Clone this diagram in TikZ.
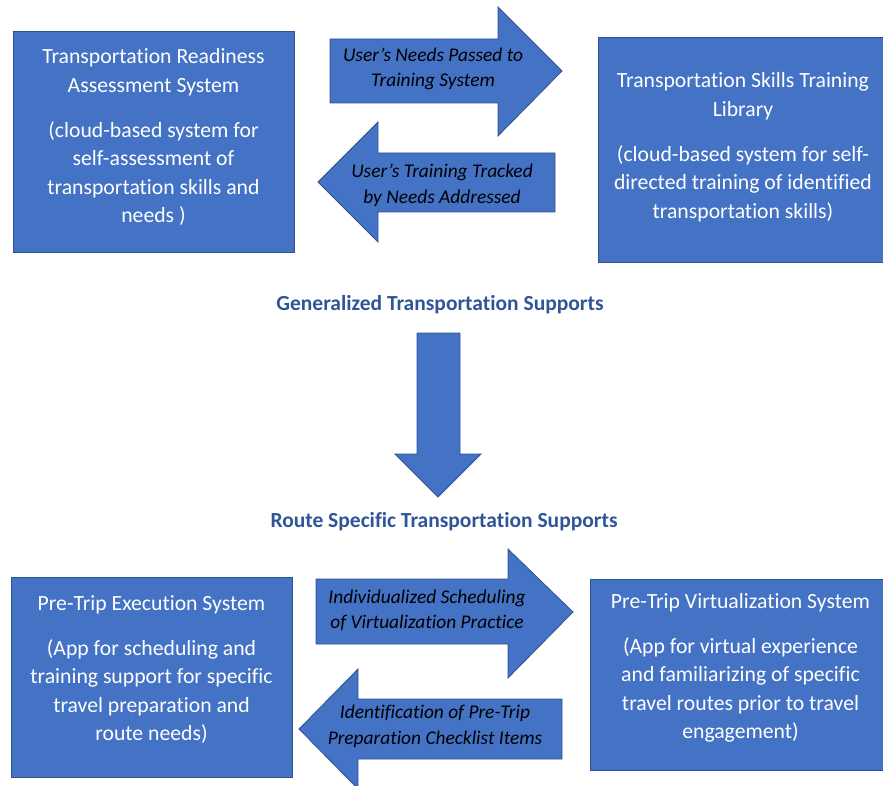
\documentclass[tikz,border=0pt]{standalone}
\usepackage{fontspec}
\setmainfont{Carlito}[Ligatures=NoCommon,Contextuals=NoAlternate,RawFeature={-clig;-dlig}]
\definecolor{boxblue}{RGB}{68,114,196}
\definecolor{edgeblue}{RGB}{47,82,143}
\definecolor{headblue}{RGB}{47,85,151}

\begin{document}
\begin{tikzpicture}[x=1pt,y=-1pt,
                sysbox/.style={draw=edgeblue,fill=boxblue,line width=1pt,inner sep=0pt},
                systext/.style={text=white,align=center,font=\fontsize{21.7}{28.5}\selectfont},
                blockarrow/.style={draw=edgeblue,fill=boxblue,line width=0.8pt},
                flowtext/.style={align=center,font=\itshape\fontsize{19.4}{25.5}\selectfont},
                stagetext/.style={text=headblue,font=\bfseries\fontsize{21.5}{26}\selectfont}]
                \clip (0,0) rectangle (883,786);
                \node[sysbox,minimum width=297pt,minimum height=225pt] (lib) at (746.5,150.5) {};
                \node[sysbox,minimum width=281pt,minimum height=221pt] (rdy) at (153.5,142.5) {};
                \node[sysbox,minimum width=281pt,minimum height=200pt] (exe) at (151.5,677) {};
                \node[sysbox,minimum width=305pt,minimum height=191pt] (vir) at (742.5,674.5) {};
                \node[systext] (rdytxt) at (153.5,137) {Transportation Readiness\\Assessment System\\[16.5pt](cloud-based system for\\self-assessment of\\transportation skills and\\needs )};
                \node[systext] (libtxt) at (743,147) {Transportation Skills Training\\Library\\[16.5pt](cloud-based system for self-\\directed training of identified\\transportation skills)};
                \node[systext] (exetxt) at (151.5,669.5) {Pre-Trip Execution System\\[16.5pt](App for scheduling and\\training support for specific\\travel preparation and\\route needs)};
                \node[systext] (virtxt) at (740.5,668) {Pre-Trip Virtualization System\\[16.5pt](App for virtual experience\\and familiarizing of specific\\travel routes prior to travel\\engagement)};
                \draw[blockarrow] (330,39) -- (498,39) -- (498,7) -- (562,71) -- (498,136) -- (498,103) -- (330,103) -- cycle;
                \draw[blockarrow] (555,153) -- (378,153) -- (378,122) -- (318,182) -- (378,242) -- (378,212) -- (555,212) -- cycle;
                \node[flowtext] (passed) at (433,69) {User’s Needs Passed to\\Training System};
                \node[flowtext] (tracked) at (442,185.5) {User’s Training Tracked\\by Needs Addressed};
                \node[stagetext] (gen) at (440,305) {Generalized Transportation Supports};
                \draw[blockarrow] (417,333) -- (460,333) -- (460,454) -- (481,454) -- (438,497) -- (395,454) -- (417,454) -- cycle;
                \node[stagetext] (route) at (444,522) {Route Specific Transportation Supports};
                \draw[blockarrow] (316,579) -- (508,579) -- (508,549) -- (573,612) -- (508,678) -- (508,644) -- (316,644) -- cycle;
                \draw[blockarrow] (562,699) -- (358,699) -- (358,669) -- (299,729) -- (358,789) -- (358,759) -- (562,759) -- cycle;
                \node[flowtext] (sched) at (427,610.5) {Individualized Scheduling\\of Virtualization Practice};
                \node[flowtext] (check) at (435,726.5) {Identification of Pre-Trip\\Preparation Checklist Items};
            \end{tikzpicture}
\end{document}
